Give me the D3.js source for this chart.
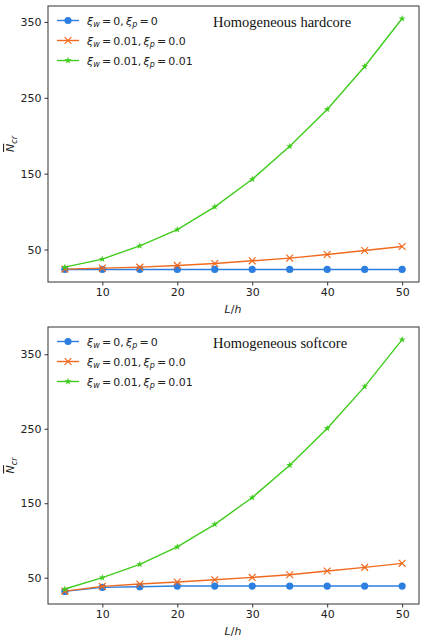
<!DOCTYPE html>
<html><head><meta charset="utf-8">
<script src="https://cdn.jsdelivr.net/npm/d3@7"></script>
<style>body{margin:0;background:#fff}svg{display:block}</style>
</head><body>
<svg id="c" width="424" height="640"></svg>
<script>
const xs = [5,10,15,20,25,30,35,40,45,50];
const yTicks = [50,150,250,350];
const xTicks = [10,20,30,40,50];
const hardBlue   = [23.7,23.7,23.7,23.7,23.7,23.7,23.7,23.7,23.7,23.7];
const hardOrange = [24.2,25.5,26.8,29.0,31.6,35.1,38.7,43.4,48.7,54.0];
const hardGreen  = [26.7,37.4,54.9,76.3,106.2,142.6,186.0,234.7,291.3,354.5];
const softBlue   = [31.6,37.0,37.9,38.8,38.8,38.8,38.8,38.8,38.8,38.8];
const softOrange = [32.0,38.3,41.5,44.2,47.3,50.4,54.0,59.0,63.9,69.3];
const softGreen  = [34.8,50.0,68.0,91.3,121.7,157.6,201.0,250.4,306.5,369.7];
const seriesNames = [["0","0"],["0.01","0.0"],["0.01","0.01"]];
const colors = ["#2c7fe0","#f06a1e","#3fcc1c"];
const titles = ["Homogeneous hardcore","Homogeneous softcore"];

const svg = d3.select("#c");
const panels = [
  {top:6, bottom:282, data:[hardBlue,hardOrange,hardGreen], title:titles[0]},
  {top:327, bottom:604, data:[softBlue,softOrange,softGreen], title:titles[1]}
];
const left = 48, right = 419;
const axisColor = "#333";

function marker(g, type, color, x, y){
  if(type===0){
    g.append("circle").attr("cx",x).attr("cy",y).attr("r",3.6).attr("fill",color);
  } else if(type===1){
    const s=3.4;
    g.append("path").attr("d",`M${x-s},${y-s}L${x+s},${y+s}M${x-s},${y+s}L${x+s},${y-s}`)
      .attr("stroke",color).attr("stroke-width",1.2).attr("fill","none");
  } else {
    g.append("path").attr("d",d3.symbol(d3.symbolStar,15)()).attr("transform",`translate(${x},${y})`)
      .attr("fill",color);
  }
}

panels.forEach(p=>{
  const g = svg.append("g");
  const x = d3.scaleLinear().domain([2.75,52.25]).range([left,right]);
  const all = p.data.flat();
  const [mn,mx] = d3.extent(all);
  const pad = (mx-mn)*0.05;
  const y = d3.scaleLinear().domain([mn-pad,mx+pad]).range([p.bottom,p.top]);

  p.data.forEach((vals,i)=>{
    const pts = xs.map((d,j)=>[x(d),y(vals[j])]);
    g.append("path").attr("d",d3.line()(pts)).attr("fill","none")
      .attr("stroke",colors[i]).attr("stroke-width",1.4);
    pts.forEach(q=>marker(g,i,colors[i],q[0],q[1]));
  });

  g.append("rect").attr("x",left).attr("y",p.top).attr("width",right-left).attr("height",p.bottom-p.top)
    .attr("fill","none").attr("stroke",axisColor).attr("stroke-width",1);

  const xa = g.append("g").attr("transform",`translate(0,${p.bottom})`)
    .call(d3.axisBottom(x).tickValues(xTicks).tickSize(3.5).tickPadding(3).tickFormat(d3.format("d")));
  const ya = g.append("g").attr("transform",`translate(${left},0)`)
    .call(d3.axisLeft(y).tickValues(yTicks).tickSize(3.5).tickPadding(3).tickFormat(d3.format("d")));
  [xa,ya].forEach(a=>{
    a.select(".domain").remove();
    a.selectAll("line").attr("stroke",axisColor);
    a.selectAll("text").attr("fill","#222").style("font-family","DejaVu Sans").style("font-size","11px");
  });

  const xl = g.append("text").attr("x",233).attr("y",p.bottom+31).attr("text-anchor","middle")
    .style("font-family","DejaVu Sans").style("font-size","11px").attr("fill","#222");
  xl.append("tspan").attr("font-style","italic").text("L");
  xl.append("tspan").text("/");
  xl.append("tspan").attr("font-style","italic").text("h");

  const ymid = (p.top+p.bottom)/2;
  const yl = g.append("text").attr("transform",`translate(14,${ymid}) rotate(-90)`).attr("text-anchor","middle")
    .style("font-family","DejaVu Sans").style("font-size","11px").attr("fill","#222");
  yl.append("tspan").attr("font-style","italic").style("text-decoration","overline").text("N");
  yl.append("tspan").attr("font-style","italic").attr("font-size","8px").attr("dy",3).text("cr");

  seriesNames.forEach((nm,i)=>{
    const ly = p.top + 14.5 + i*20;
    g.append("line").attr("x1",57).attr("x2",79).attr("y1",ly).attr("y2",ly)
      .attr("stroke",colors[i]).attr("stroke-width",1.4);
    marker(g,i,colors[i],68,ly);
    const t = g.append("text").attr("x",87).attr("y",ly+4)
      .style("font-family","DejaVu Sans").style("font-size","11px").attr("fill","#222");
    t.append("tspan").attr("font-style","italic").text("ξ");
    t.append("tspan").attr("font-style","italic").attr("font-size","8px").attr("dy",2.5).text("w");
    t.append("tspan").attr("dy",-2.5).text("\u2009=\u2009"+nm[0]+",\u2009");
    t.append("tspan").attr("font-style","italic").text("ξ");
    t.append("tspan").attr("font-style","italic").attr("font-size","8px").attr("dy",2.5).text("p");
    t.append("tspan").attr("dy",-2.5).text("\u2009=\u2009"+nm[1]);
  });

  g.append("text").attr("x",213).attr("y",p.top+21).text(p.title)
    .style("font-family","Liberation Serif").style("font-size","14.5px").attr("fill","#111");
});
</script>
</body></html>
